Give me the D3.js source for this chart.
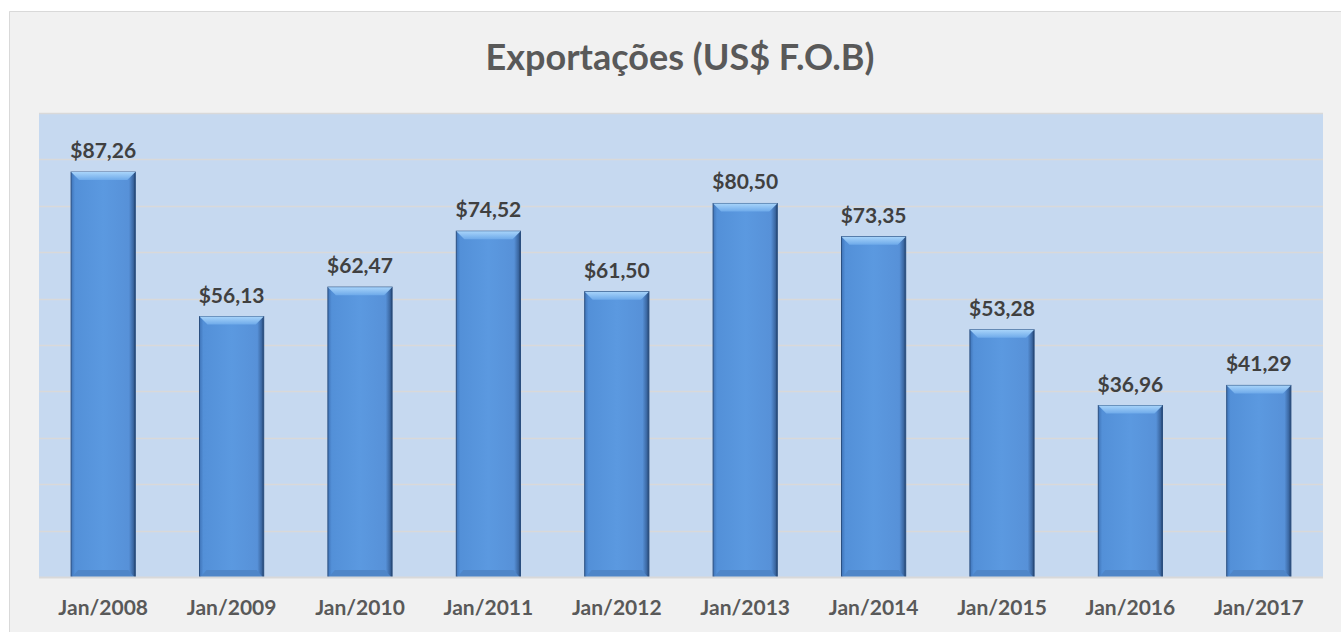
<!DOCTYPE html>
<html>
<head>
<meta charset="utf-8">
<script src="https://cdn.jsdelivr.net/npm/d3@7/dist/d3.min.js"></script>
<style>
  html, body { margin: 0; padding: 0; background: #ffffff; }
  svg { display: block; }
  text { font-family: Lato, "Open Sans", sans-serif; font-weight: bold; }
</style>
</head>
<body>
<div id="chart"></div>
<script>
// chart data
const categories = ['Jan/2008', 'Jan/2009', 'Jan/2010', 'Jan/2011', 'Jan/2012',
                    'Jan/2013', 'Jan/2014', 'Jan/2015', 'Jan/2016', 'Jan/2017'];
const values = [87.26, 56.13, 62.47, 74.52, 61.50, 80.50, 73.35, 53.28, 36.96, 41.29];
const yTicks = [0, 10, 20, 30, 40, 50, 60, 70, 80, 90, 100];
const title = 'Exportações (US$ F.O.B)';

const width = 1341, height = 632;
const plot = {left: 39, right: 1323, top: 113, bottom: 577};

const fmt = v => '$' + v.toFixed(2).replace('.', ',');

const svg = d3.select('#chart').append('svg')
    .attr('width', width)
    .attr('height', height);

const defs = svg.append('defs');
let grad = defs.append('linearGradient').attr('id', 'barGrad')
    .attr('x1', '0%').attr('x2', '100%').attr('y1', '0%').attr('y2', '0%');
grad.append('stop').attr('offset', '0%').attr('stop-color', '#3f74b8');
grad.append('stop').attr('offset', '6%').attr('stop-color', '#5390d8');
grad.append('stop').attr('offset', '50%').attr('stop-color', '#5b99e0');
grad.append('stop').attr('offset', '90%').attr('stop-color', '#5791d8');
grad.append('stop').attr('offset', '97%').attr('stop-color', '#3a66a0');
grad.append('stop').attr('offset', '100%').attr('stop-color', '#1f3e68');

let topGrad = defs.append('linearGradient').attr('id', 'topGrad')
    .attr('x1', '0%').attr('x2', '0%').attr('y1', '0%').attr('y2', '100%');
topGrad.append('stop').attr('offset', '0%').attr('stop-color', '#a8d4fa');
topGrad.append('stop').attr('offset', '100%').attr('stop-color', '#6eaaea');

// outer chart area (only left and top edges are on screen)
svg.append('rect')
    .attr('x', 9).attr('y', 11)
    .attr('width', width).attr('height', height)
    .attr('fill', '#f1f1f1');
svg.append('path')
    .attr('d', `M9.5,${height}L9.5,11.5L${width},11.5`)
    .attr('fill', 'none')
    .attr('stroke', '#d9d9d9');

// plot area
svg.append('rect')
    .attr('x', plot.left).attr('y', plot.top)
    .attr('width', plot.right - plot.left).attr('height', plot.bottom - plot.top)
    .attr('fill', '#c6d9f0');

const x = d3.scaleBand()
    .domain(categories)
    .range([plot.left, plot.right])
    .paddingInner(0.5)
    .paddingOuter(0.25);

const y = d3.scaleLinear()
    .domain([0, 100])
    .range([plot.bottom, plot.top]);

// gridlines
svg.append('g').selectAll('line')
    .data(yTicks.slice(1))
    .join('line')
    .attr('x1', plot.left).attr('x2', plot.right)
    .attr('y1', d => Math.round(y(d)) + 0.5).attr('y2', d => Math.round(y(d)) + 0.5)
    .attr('stroke', '#d9d9d9')
    .attr('stroke-width', 1.5);

// bars
const bars = svg.append('g').selectAll('g')
    .data(values)
    .join('g');

bars.append('rect')
    .attr('x', (d, i) => x(categories[i]))
    .attr('y', d => y(d))
    .attr('width', x.bandwidth())
    .attr('height', d => plot.bottom - y(d))
    .attr('fill', 'url(#barGrad)')
    .attr('stroke', '#2a4f80')
    .attr('stroke-width', 1);

// top bevel
bars.append('path')
    .attr('d', (d, i) => {
        let x0 = x(categories[i]), x1 = x0 + x.bandwidth(), t = y(d), b = 8;
        return `M${x0},${t}L${x1},${t}L${x1 - b},${t + b}L${x0 + b},${t + b}Z`;
    })
    .attr('fill', 'url(#topGrad)');

// bottom bevel shade
bars.append('path')
    .attr('d', (d, i) => {
        let x0 = x(categories[i]), x1 = x0 + x.bandwidth(), b = 7;
        return `M${x0 + 1},${plot.bottom}L${x1 - 1},${plot.bottom}L${x1 - b},${plot.bottom - b}L${x0 + b},${plot.bottom - b}Z`;
    })
    .attr('fill', '#4f86c8');

// baseline
svg.append('line')
    .attr('x1', plot.left).attr('x2', plot.right)
    .attr('y1', plot.bottom + 0.5).attr('y2', plot.bottom + 0.5)
    .attr('stroke', '#d9d9d9')
    .attr('stroke-width', 2);

// value labels
svg.append('g').selectAll('text')
    .data(values)
    .join('text')
    .attr('x', (d, i) => x(categories[i]) + x.bandwidth() / 2)
    .attr('y', d => y(d) - 14)
    .attr('text-anchor', 'middle')
    .attr('font-size', 21)
    .attr('fill', '#404040')
    .text(fmt);

// category axis
const xAxis = svg.append('g')
    .attr('transform', `translate(0,${plot.bottom})`)
    .call(d3.axisBottom(x).tickSize(0).tickPadding(23));
xAxis.select('.domain').remove();
xAxis.selectAll('text')
    .attr('font-size', 21)
    .attr('fill', '#595959')
    .attr('font-family', 'Lato, "Open Sans", sans-serif')
    .attr('font-weight', 'bold');

// title
svg.append('text')
    .attr('x', 680)
    .attr('y', 70)
    .attr('text-anchor', 'middle')
    .attr('font-size', 36)
    .attr('fill', '#595959')
    .text(title);
</script>
</body>
</html>
